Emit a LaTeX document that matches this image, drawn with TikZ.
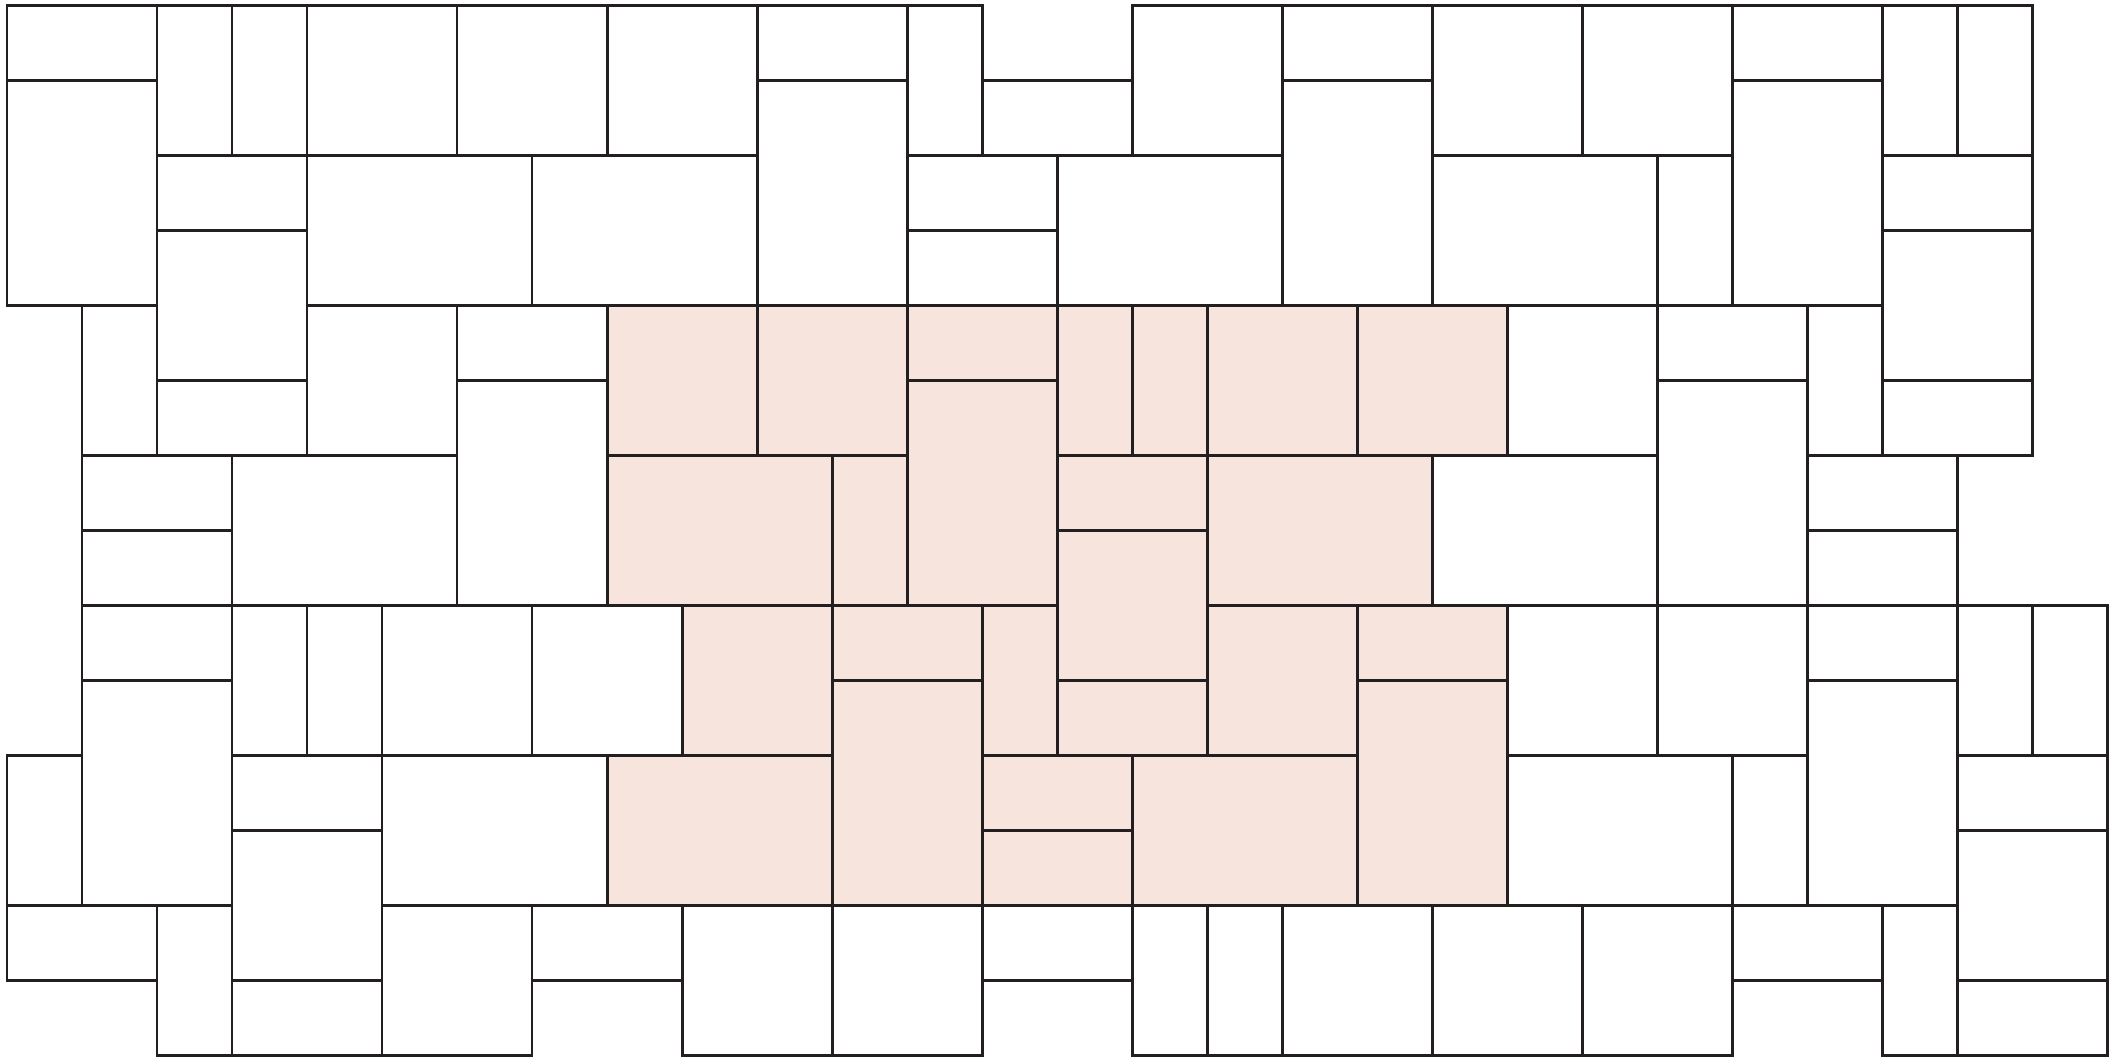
\documentclass[tikz,border=0pt]{standalone}
\definecolor{tileline}{HTML}{231F20}
\definecolor{tilepink}{HTML}{F7E4DC}
\begin{document}
\begin{tikzpicture}[x=1cm,y=-1cm,
  tile/.style={draw=tileline,line width=1.1pt,fill=white},
  pinktile/.style={draw=tileline,line width=1.1pt,fill=tilepink}]
\useasboundingbox[fill=white] (-0.093,-0.07) rectangle (28.117,14.01);
% white tiles
\foreach \a/\b/\c/\d in {
 0/0/2/1, 0/1/2/4, 2/0/3/2, 3/0/4/2, 4/0/6/2, 6/0/8/2, 8/0/10/2,
 10/0/12/1, 10/1/12/4, 12/0/13/2, 13/1/15/2, 15/0/17/2, 17/0/19/1, 17/1/19/4,
 19/0/21/2, 21/0/23/2, 23/0/25/1, 23/1/25/4, 25/0/26/2, 26/0/27/2,
 2/2/4/3, 2/3/4/5, 4/2/7/4, 7/2/10/4, 12/2/14/3, 12/3/14/4, 14/2/17/4,
 19/2/22/4, 22/2/23/4, 25/2/27/3, 25/3/27/5, 25/5/27/6,
 1/4/2/6, 2/5/4/6, 4/4/6/6, 6/4/8/5, 6/5/8/8,
 20/4/22/6, 22/4/24/5, 22/5/24/8, 24/4/25/6,
 1/6/3/7, 1/7/3/8, 3/6/6/8, 19/6/22/8, 24/6/26/7, 24/7/26/8,
 1/8/3/9, 1/9/3/12, 3/8/4/10, 4/8/5/10, 5/8/7/10, 7/8/9/10,
 20/8/22/10, 22/8/24/10, 24/8/26/9, 24/9/26/12, 26/8/27/10, 27/8/28/10,
 0/10/1/12, 3/10/5/11, 3/11/5/13, 5/10/8/12,
 20/10/23/12, 23/10/24/12, 26/10/28/11, 26/11/28/13, 26/13/28/14,
 0/12/2/13, 2/12/3/14, 3/13/5/14, 5/12/7/14, 7/12/9/13, 9/12/11/14,
 11/12/13/14, 13/12/15/13, 15/12/16/14, 16/12/17/14, 17/12/19/14,
 19/12/21/14, 21/12/23/14, 23/12/25/13, 25/12/26/14}
 \draw[tile] (\a,\b) rectangle (\c,\d);
% pink tiles
\foreach \a/\b/\c/\d in {
 8/4/10/6, 10/4/12/6, 12/4/14/5, 12/5/14/8, 14/4/15/6, 15/4/16/6,
 16/4/18/6, 18/4/20/6, 8/6/11/8, 11/6/12/8, 14/6/16/7, 14/7/16/9,
 16/6/19/8, 9/8/11/10, 11/8/13/9, 11/9/13/12, 13/8/14/10, 14/9/16/10,
 16/8/18/10, 18/8/20/9, 18/9/20/12, 8/10/11/12, 13/10/15/11,
 13/11/15/12, 15/10/18/12}
 \draw[pinktile] (\a,\b) rectangle (\c,\d);
\end{tikzpicture}
\end{document}
